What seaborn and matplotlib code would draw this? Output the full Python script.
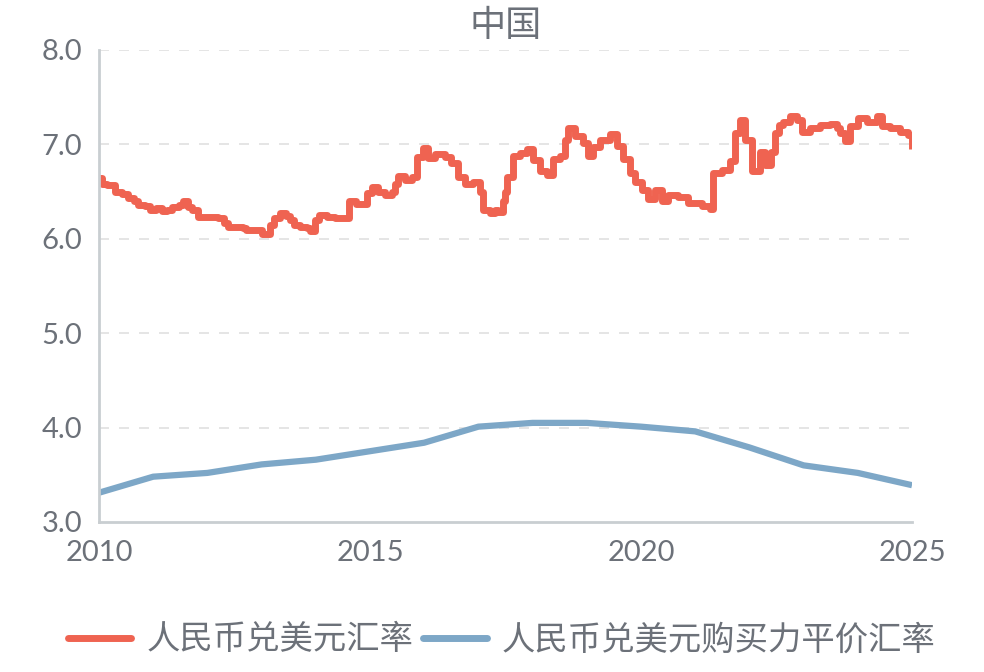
import matplotlib
matplotlib.use("Agg")
import matplotlib.pyplot as plt
import seaborn as sns
import pandas as pd

# ---- data ----
rate_years = [2010.00, 2010.05, 2010.15, 2010.30, 2010.42, 2010.53, 2010.65, 2010.72, 2010.85, 2010.94,
              2011.05, 2011.16, 2011.25, 2011.35, 2011.47, 2011.55, 2011.65, 2011.72, 2011.83, 2012.00,
              2012.20, 2012.30, 2012.38, 2012.55, 2012.65, 2012.72, 2012.90, 2013.00, 2013.08, 2013.15,
              2013.22, 2013.34, 2013.45, 2013.52, 2013.60, 2013.70, 2013.84, 2013.90, 2013.98, 2014.05,
              2014.20, 2014.35, 2014.55, 2014.62, 2014.75, 2014.88, 2014.95, 2015.03, 2015.15, 2015.27,
              2015.40, 2015.47, 2015.52, 2015.64, 2015.77, 2015.86, 2015.97, 2016.07, 2016.20, 2016.38,
              2016.50, 2016.62, 2016.75, 2016.90, 2017.03, 2017.08, 2017.21, 2017.30, 2017.36, 2017.45,
              2017.50, 2017.53, 2017.64, 2017.77, 2017.90, 2018.00, 2018.13, 2018.26, 2018.37, 2018.50,
              2018.60, 2018.65, 2018.78, 2018.93, 2019.02, 2019.11, 2019.24, 2019.43, 2019.56, 2019.67,
              2019.80, 2019.89, 2020.02, 2020.13, 2020.26, 2020.38, 2020.50, 2020.68, 2020.87, 2021.12,
              2021.27, 2021.33, 2021.49, 2021.64, 2021.73, 2021.82, 2021.91, 2022.04, 2022.19, 2022.28,
              2022.40, 2022.47, 2022.55, 2022.62, 2022.75, 2022.88, 2022.97, 2023.12, 2023.30, 2023.49,
              2023.62, 2023.67, 2023.76, 2023.85, 2024.00, 2024.17, 2024.35, 2024.44, 2024.59, 2024.78,
              2024.93, 2025.00]
rate_values = [6.64, 6.58, 6.57, 6.50, 6.47, 6.43, 6.40, 6.36, 6.35, 6.30,
               6.33, 6.29, 6.30, 6.34, 6.36, 6.40, 6.34, 6.30, 6.23, 6.23,
               6.22, 6.17, 6.13, 6.12, 6.11, 6.09, 6.09, 6.05, 6.05, 6.15,
               6.22, 6.27, 6.24, 6.20, 6.15, 6.13, 6.11, 6.08, 6.20, 6.25,
               6.23, 6.22, 6.22, 6.40, 6.37, 6.37, 6.49, 6.55, 6.50, 6.46,
               6.50, 6.58, 6.67, 6.62, 6.65, 6.87, 6.96, 6.86, 6.90, 6.87,
               6.80, 6.65, 6.58, 6.60, 6.50, 6.31, 6.27, 6.30, 6.28, 6.40,
               6.50, 6.65, 6.88, 6.91, 6.95, 6.84, 6.72, 6.68, 6.85, 6.88,
               7.05, 7.17, 7.09, 7.02, 6.88, 6.97, 7.05, 7.11, 6.98, 6.85,
               6.70, 6.60, 6.52, 6.42, 6.52, 6.40, 6.46, 6.44, 6.38, 6.35,
               6.32, 6.70, 6.73, 6.82, 7.12, 7.26, 7.05, 6.72, 6.92, 6.78,
               6.92, 7.12, 7.21, 7.24, 7.30, 7.26, 7.13, 7.17, 7.21, 7.22,
               7.17, 7.12, 7.04, 7.20, 7.28, 7.24, 7.30, 7.19, 7.17, 7.13,
               7.10, 6.95]

ppp_years = [2010, 2011, 2012, 2013, 2014, 2015, 2016, 2017, 2018, 2019, 2020, 2021, 2022, 2023, 2024, 2025]
ppp_values = [3.31, 3.48, 3.52, 3.61, 3.66, 3.75, 3.84, 4.01, 4.05, 4.05, 4.01, 3.96, 3.79, 3.60, 3.52, 3.39]

x_ticks = [2010, 2015, 2020, 2025]
y_ticks = [3.0, 4.0, 5.0, 6.0, 7.0, 8.0]

title = "中国"
label_rate = "人民币兑美元汇率"
label_ppp = "人民币兑美元购买力平价汇率"

RED = "#ef6351"
BLUE = "#7da7c7"
TXT = "#6c7179"
SPINE = "#c9ced1"
GRID = "#e0e0e0"

sns.set_theme(style="white")
plt.rcParams["font.family"] = ["Lato", "Noto Sans CJK SC", "DejaVu Sans"]

fig = plt.figure(figsize=(9.84, 6.72), dpi=100)
ax = fig.add_axes([99 / 984, 1 - 522 / 672, (912 - 99) / 984, (522 - 50) / 672])

df_rate = pd.DataFrame({"year": rate_years, "value": rate_values})
df_ppp = pd.DataFrame({"year": ppp_years, "value": ppp_values})

sns.lineplot(data=df_rate, x="year", y="value", ax=ax, color=RED, linewidth=5,
             drawstyle="steps-post", label=label_rate, solid_capstyle="butt")
sns.lineplot(data=df_ppp, x="year", y="value", ax=ax, color=BLUE, linewidth=4.5,
             label=label_ppp, solid_capstyle="butt")

ax.set_xlim(2010, 2025)
ax.set_ylim(3.0, 8.0)
ax.set_xticks(x_ticks)
ax.set_xticklabels([str(t) for t in x_ticks])
ax.set_yticks(y_ticks)
ax.set_yticklabels([f"{t:.1f}" for t in y_ticks])
ax.set_xlabel("")
ax.set_ylabel("")

for y in y_ticks[1:]:
    ax.axhline(y, color=GRID, linewidth=1.2, linestyle=(0, (6, 6)), zorder=0)

for s in ["top", "right"]:
    ax.spines[s].set_visible(False)
for s in ["left", "bottom"]:
    ax.spines[s].set_color(SPINE)
    ax.spines[s].set_linewidth(2)
ax.spines["left"].set_bounds(3.0, 8.0)

ax.tick_params(axis="both", which="major", colors=SPINE, labelcolor=TXT,
               labelsize=21, length=7, width=1.5, direction="out")
ax.tick_params(axis="x", pad=6)
ax.tick_params(axis="y", pad=5)

ax.set_title(title, fontsize=26, color=TXT, pad=10, fontweight="medium",
             family=["Noto Sans CJK SC", "DejaVu Sans"])

handles, labels = ax.get_legend_handles_labels()
ax.get_legend().remove()
leg = fig.legend(handles, labels, loc="center", bbox_to_anchor=(0.51, 1 - 640 / 672),
                 ncol=2, frameon=False, handlelength=1.9,
                 handletextpad=0.45, columnspacing=0.3,
                 prop={"family": ["Noto Sans CJK SC", "DejaVu Sans"], "size": 24})
for t in leg.get_texts():
    t.set_color(TXT)
for h in leg.get_lines():
    h.set_linewidth(5)
    h.set_solid_capstyle("round")

fig.savefig("out.png", dpi=100)
